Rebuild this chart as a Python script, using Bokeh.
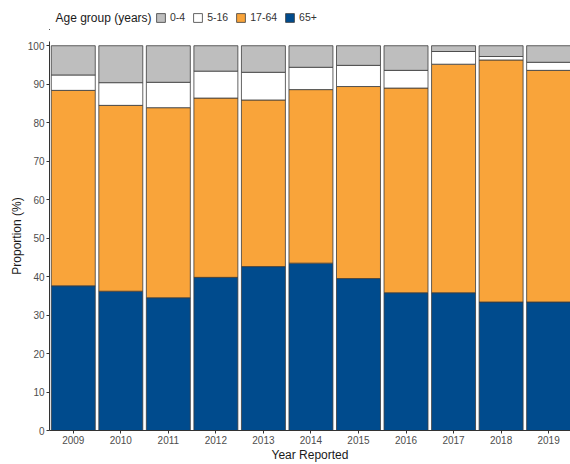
from bokeh.plotting import figure
from bokeh.layouts import column
from bokeh.models import (ColumnDataSource, Range1d, FixedTicker, Legend,
                          LegendItem, Label)
from bokeh.embed import file_html
from bokeh.resources import INLINE

# Share of reported cases by age group, per year (%)
years = [2009, 2010, 2011, 2012, 2013, 2014, 2015, 2016, 2017, 2018, 2019]
age_0_4 = [7.6, 9.6, 9.5, 6.6, 6.9, 5.6, 5.1, 6.4, 1.5, 2.8, 4.3]
age_5_16 = [4.0, 5.9, 6.6, 7.0, 7.2, 5.8, 5.5, 4.6, 3.3, 0.9, 2.1]
age_17_64 = [50.8, 48.3, 49.4, 46.6, 43.3, 45.1, 49.9, 53.2, 59.4, 62.9, 60.2]
age_65_plus = [37.6, 36.2, 34.5, 39.8, 42.6, 43.5, 39.5, 35.8, 35.8, 33.4, 33.4]

groups = ["0-4", "5-16", "17-64", "65+"]
group_colors = ["#BEBEBE", "#FFFFFF", "#F9A43A", "#004B8D"]
y_ticks = [0, 10, 20, 30, 40, 50, 60, 70, 80, 90, 100]

FONT = "Liberation Sans"
OUTLINE = "#3c3c3c"

source = ColumnDataSource(dict(
    year=years,
    g04=age_0_4,
    g516=age_5_16,
    g1764=age_17_64,
    g65=age_65_plus,
))

# ---- main stacked-bar panel ----
p = figure(
    width=570, height=434,
    x_range=Range1d(2008.5, 2019.46),
    y_range=Range1d(0, 101.1),
    output_backend="svg",
    toolbar_location=None,
    min_border_left=49, min_border_right=0,
    min_border_top=11, min_border_bottom=31,
)

# stacked from the bottom: 65+, 17-64, 5-16, 0-4
p.vbar_stack(
    ["g65", "g1764", "g516", "g04"],
    x="year", width=0.925, source=source,
    fill_color=group_colors[::-1],
    line_color=OUTLINE, line_width=0.8,
)

p.xgrid.visible = False
p.ygrid.visible = False
p.outline_line_color = None
p.background_fill_color = "white"
p.border_fill_color = "white"

p.xaxis.ticker = FixedTicker(ticks=years)
p.yaxis.ticker = FixedTicker(ticks=y_ticks)
p.xaxis.axis_label = "Year Reported"
p.yaxis.axis_label = "Proportion (%)"

for ax in (p.xaxis, p.yaxis):
    ax.axis_line_color = "#333333"
    ax.axis_line_width = 1
    ax.major_tick_line_color = "#333333"
    ax.major_tick_in = 0
    ax.major_tick_out = 3
    ax.minor_tick_line_color = None
    ax.major_label_text_font = FONT
    ax.major_label_text_font_size = "10px"
    ax.major_label_text_color = "#4d4d4d"
    ax.axis_label_text_font = FONT
    ax.axis_label_text_font_size = "12px"
    ax.axis_label_text_font_style = "normal"
    ax.axis_label_text_color = "#1a1a1a"

p.xaxis.major_label_standoff = 2
p.xaxis.axis_label_standoff = 1
p.yaxis.major_label_standoff = 2
p.yaxis.axis_label_standoff = 1

# ---- horizontal key strip above the bars (frame aligned with the bars' frame) ----
key = figure(
    width=570, height=30,
    x_range=Range1d(0, 521), y_range=Range1d(0, 30),
    output_backend="svg",
    toolbar_location=None,
    min_border=0,
)
key.axis.visible = False
key.xgrid.visible = False
key.ygrid.visible = False
key.outline_line_color = None

# one off-range bar per group, only used to draw the key swatches
swatches = [
    key.vbar(x=[-1000], top=[1], width=1, fill_color=c, line_color=OUTLINE, line_width=0.8)
    for c in group_colors
]
legend = Legend(
    items=[LegendItem(label=g, renderers=[r]) for g, r in zip(groups, swatches)],
    orientation="horizontal",
    label_text_font=FONT,
    label_text_font_size="10.5px",
    label_text_color="#333333",
    label_standoff=4,
    label_width=0,
    glyph_width=11, glyph_height=11,
    label_height=11,
    spacing=7,
    padding=0, margin=0,
    location=(106, 7),
    border_line_color=None,
    background_fill_alpha=0,
)
key.add_layout(legend, "center")

key.add_layout(Label(
    x=6, y=13, x_units="screen", y_units="screen",
    text="Age group (years)",
    text_font=FONT, text_font_size="12px", text_color="#1a1a1a",
    text_baseline="middle", text_align="left",
))

open("out.html", "w").write(file_html(column(key, p, spacing=0), INLINE))
